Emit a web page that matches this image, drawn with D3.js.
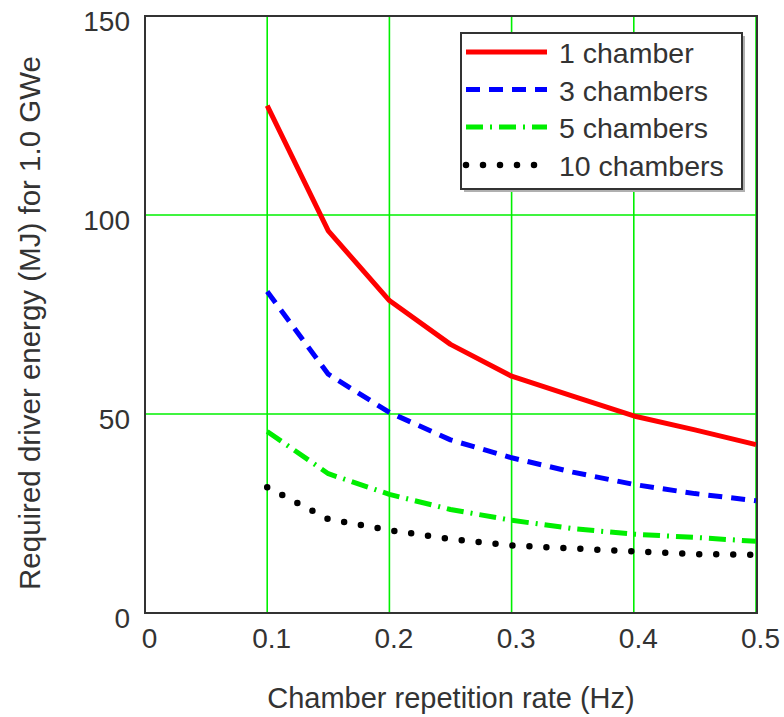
<!DOCTYPE html>
<html>
<head>
<meta charset="utf-8">
<script src="https://cdnjs.cloudflare.com/ajax/libs/d3/7.8.5/d3.min.js"></script>
<style>
  body { margin: 0; background: #fff; }
  text { font-family: "Liberation Sans", Arial, sans-serif; fill: #333; }
</style>
</head>
<body>
<div id="graph"></div>
<script>
// chamber repetition rate (Hz)
var rates = [0.1, 0.15, 0.2, 0.25, 0.3, 0.35, 0.4, 0.45, 0.5];
// required driver energy (MJ) for 1.0 GWe
var oneChamber   = [127.5, 96, 78.5, 67.5, 59.5, 54.5, 49.5, 46, 42.3];
var threeChambers = [80.8, 60, 50.4, 43.5, 39, 35.4, 32.3, 30, 28.2];
var fiveChambers = [45.6, 35, 29.8, 26, 23.3, 21.2, 19.8, 19, 18];
var tenChambers  = [31.6, 23.6, 20.8, 18.6, 17, 16.2, 15.5, 14.8, 14.6];
var seriesNames = ["1 chamber", "3 chambers", "5 chambers", "10 chambers"];
var xTicks = [0, 0.1, 0.2, 0.3, 0.4, 0.5];
var xTickLabels = ["0", "0.1", "0.2", "0.3", "0.4", "0.5"];
var yTicks = [0, 50, 100, 150];
var yTickLabels = ["0", "50", "100", "150"];

var series = [
  { name: seriesNames[0], values: oneChamber,    color: "#ff0000", dash: null,       width: 5,   cap: "butt" },
  { name: seriesNames[1], values: threeChambers, color: "#0000ff", dash: "14,9",     width: 5,   cap: "butt" },
  { name: seriesNames[2], values: fiveChambers,  color: "#00ee00", dash: "17,7,2,7", width: 5,   cap: "butt" },
  { name: seriesNames[3], values: tenChambers,   color: "#000000", dash: "0,17",     width: 6.5, cap: "round" }
];

var W = 784, H = 717;
var pLeft = 145, pRight = 756, pTop = 16, pBottom = 613;

var svg = d3.select("#graph").append("svg").attr("width", W).attr("height", H);

var x = d3.scaleLinear().domain([0, 0.5]).range([pLeft, pRight]);
var y = d3.scaleLinear().domain([0, 150]).range([pBottom, pTop]);

// grid
svg.append("g").selectAll("line")
  .data(xTicks.filter(function(d){ return d > 0; }))
  .enter().append("line")
  .attr("x1", function(d){ return x(d); }).attr("x2", function(d){ return x(d); })
  .attr("y1", pTop).attr("y2", pBottom)
  .attr("stroke", "#00f000").attr("stroke-width", 1.6);

svg.append("g").selectAll("line")
  .data(yTicks.filter(function(d){ return d > 0 && d < 150; }))
  .enter().append("line")
  .attr("x1", pLeft).attr("x2", pRight)
  .attr("y1", function(d){ return y(d); }).attr("y2", function(d){ return y(d); })
  .attr("stroke", "#00f000").attr("stroke-width", 1.6);

// axes labels
var xAxis = svg.append("g")
  .attr("transform", "translate(0," + pBottom + ")")
  .call(d3.axisBottom(x).tickValues(xTicks).tickSize(0).tickPadding(15)
    .tickFormat(function(d, i){ return xTickLabels[i]; }));
xAxis.select(".domain").remove();
xAxis.selectAll("text").attr("font-size", 28).attr("dx", 4)
  .style("font-family", "'Liberation Sans', Arial, sans-serif").attr("fill", "#333");

var yAxis = svg.append("g")
  .attr("transform", "translate(" + pLeft + ",0)")
  .call(d3.axisLeft(y).tickValues(yTicks).tickSize(0).tickPadding(15)
    .tickFormat(function(d, i){ return yTickLabels[i]; }));
yAxis.select(".domain").remove();
yAxis.selectAll("text").attr("font-size", 28).attr("dy", "0.52em")
  .style("font-family", "'Liberation Sans', Arial, sans-serif").attr("fill", "#333");

// lines
var line = d3.line()
  .x(function(d, i){ return x(rates[i]); })
  .y(function(d){ return y(d); });

series.forEach(function(s){
  svg.append("path")
    .datum(s.values)
    .attr("d", line)
    .attr("fill", "none")
    .attr("stroke", s.color)
    .attr("stroke-width", s.width)
    .attr("stroke-linecap", s.cap)
    .attr("stroke-linejoin", "round")
    .attr("stroke-dasharray", s.dash);
});

// frame
svg.append("rect")
  .attr("x", pLeft).attr("y", pTop)
  .attr("width", pRight - pLeft + 1).attr("height", pBottom - pTop)
  .attr("fill", "none").attr("stroke", "#333").attr("stroke-width", 2);

// legend
var lg = svg.append("g");
lg.append("rect").attr("x", 464).attr("y", 36).attr("width", 281).attr("height", 156).attr("fill", "#b0b0b0");
lg.append("rect").attr("x", 461).attr("y", 33).attr("width", 281).attr("height", 156)
  .attr("fill", "#fff").attr("stroke", "#333").attr("stroke-width", 2);

var rowY = [52, 89.5, 127, 165];
series.forEach(function(s, i){
  lg.append("line")
    .attr("x1", 466).attr("x2", 547)
    .attr("y1", rowY[i]).attr("y2", rowY[i])
    .attr("stroke", s.color)
    .attr("stroke-width", s.width)
    .attr("stroke-linecap", s.cap)
    .attr("stroke-dasharray", s.dash);
  lg.append("text")
    .text(s.name)
    .attr("x", 559).attr("y", rowY[i] + 11)
    .attr("font-size", 28.5);
});

// axis titles
svg.append("text")
  .text("Chamber repetition rate (Hz)")
  .attr("x", 451).attr("y", 708)
  .attr("text-anchor", "middle")
  .attr("font-size", 29);

svg.append("text")
  .text("Required driver energy (MJ) for 1.0 GWe")
  .attr("transform", "translate(40,323) rotate(-90)")
  .attr("text-anchor", "middle")
  .attr("font-size", 29.5);
</script>
</body>
</html>
